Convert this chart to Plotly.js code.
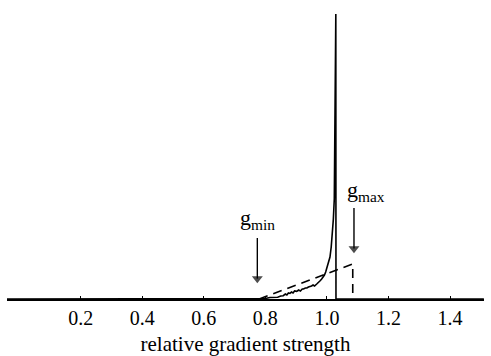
<!DOCTYPE html>
<html><head><meta charset="utf-8">
<script src="https://cdn.plot.ly/plotly-3.0.1.min.js"></script>
<style>body{margin:0;background:#fff}#c{width:491px;height:356px}</style>
</head><body><div id="c"></div>
<script>
// histogram of relative gradient strength (arbitrary units)
const gradX = [-0.04, 0.78, 0.80, 0.815, 0.83, 0.84, 0.85, 0.858, 0.865, 0.87, 0.875, 0.88, 0.885, 0.89, 0.895, 0.902, 0.908, 0.914, 0.92, 0.924, 0.93, 0.935, 0.94, 0.945, 0.95, 0.955, 0.96, 0.967, 0.972, 0.978, 0.983, 0.988, 0.992, 0.996, 1.0, 1.005, 1.01, 1.014, 1.018, 1.021, 1.024, 1.026, 1.028, 1.029, 1.0295, 1.51];
const gradY = [0, 0, 0.5, 1.5, 2, 1.8, 3, 3.3, 5, 4, 6, 5.6, 7, 6, 8, 7.6, 9, 8, 10, 10, 11, 11, 12, 12.3, 13, 14, 13, 15, 17, 18.3, 20, 22, 24, 27, 31, 36, 42, 52, 64, 80, 100, 150, 230, 285, 0, 0];
// dashed model line
const modelX = [0.78, 1.084, 1.084];
const modelY = [0, 35, 0];
// markers g_min / g_max
const gMin = 0.774, gMax = 1.088;
const gMinArrowY = [61, 20.4];
const gMaxArrowY = [91, 50.4];
const tickVals = [0.2, 0.4, 0.6, 0.8, 1.0, 1.2, 1.4];
const tickText = ['0.2', '0.4', '0.6', '0.8', '1.0', '1.2', '1.4'];

const fam = 'Liberation Serif, Times New Roman, serif';
const font = {family: fam, size: 20, color: '#000'};
const labFont = {family: fam, size: 22, color: '#000'};
const arrowTrace = (x, ys) => ({x: [x, x], y: ys, mode: 'lines+markers',
  line: {color: '#000', width: 1.4},
  marker: {symbol: 'triangle-down', size: [0, 9.5], color: '#000', line: {width: 0}}, hoverinfo: 'skip'});
const traces = [
  {x: gradX, y: gradY, mode: 'lines', line: {color: '#000', width: 1.6}, hoverinfo: 'skip'},
  {x: modelX, y: modelY, mode: 'lines', line: {color: '#000', width: 1.6, dash: '9px,6px'}, hoverinfo: 'skip'},
  arrowTrace(gMin, gMinArrowY),
  arrowTrace(gMax, gMaxArrowY)
];
const layout = {
  width: 491, height: 356,
  margin: {l: 7, r: 7, t: 9, b: 57},
  paper_bgcolor: '#fff', plot_bgcolor: '#fff',
  showlegend: false,
  font: font,
  xaxis: {range: [-0.0393, 1.5104], showline: true, linecolor: '#000', linewidth: 1.5,
    ticks: 'inside', ticklen: 3, tickwidth: 1, tickcolor: '#000',
    tickvals: tickVals, ticktext: tickText, showgrid: false, zeroline: false,
    tickfont: font, title: {text: 'relative gradient strength', font: {family: fam, size: 21, color: '#000'}, standoff: 9}},
  yaxis: {range: [0, 290], visible: false, showgrid: false, zeroline: false},
  annotations: [
    {x: gMin, y: 80, xref: 'x', yref: 'y', text: 'g<sub>min</sub>', showarrow: false, font: labFont},
    {x: 1.127, y: 108, xref: 'x', yref: 'y', text: 'g<sub>max</sub>', showarrow: false, font: labFont}
  ]
};
Plotly.newPlot('c', traces, layout, {staticPlot: true});
</script></body></html>
